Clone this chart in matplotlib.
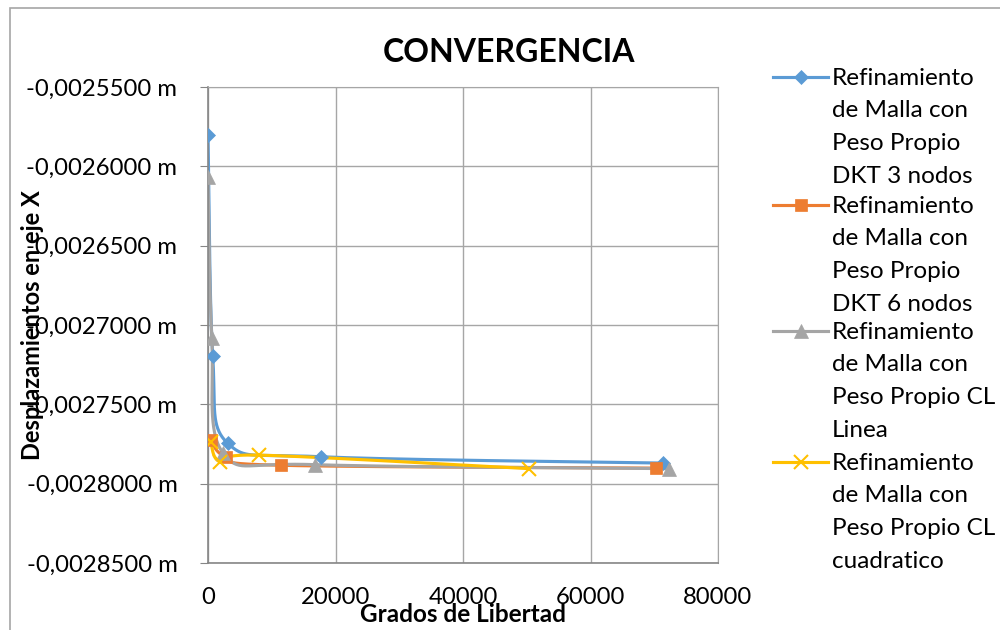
import numpy as np
import matplotlib
matplotlib.use("Agg")
import matplotlib.pyplot as plt
from matplotlib.lines import Line2D
from matplotlib.patches import Rectangle
from matplotlib.ticker import FuncFormatter

plt.rcParams['font.family'] = ['Lato', 'DejaVu Sans']

# -----------------------------------
# Data
# -----------------------------------

gdl_dkt3 = [0, 740, 3090, 17700, 71400]
desp_dkt3 = [-0.0025803, -0.0027196, -0.0027745, -0.0027830, -0.0027870]

gdl_dkt6 = [400, 2900, 11450, 70300]
desp_dkt6 = [-0.0027726, -0.0027833, -0.0027884, -0.0027902]

gdl_cl_lin = [0, 600, 2400, 16800, 72300]
desp_cl_lin = [-0.0026070, -0.0027080, -0.0027808, -0.0027880, -0.0027905]

gdl_cl_cuad = [400, 1900, 8000, 50350]
desp_cl_cuad = [-0.0027736, -0.0027862, -0.0027820, -0.0027905]

labels = [
    "Refinamiento\nde Malla con\nPeso Propio\nDKT 3 nodos",
    "Refinamiento\nde Malla con\nPeso Propio\nDKT 6 nodos",
    "Refinamiento\nde Malla con\nPeso Propio CL\nLinea",
    "Refinamiento\nde Malla con\nPeso Propio CL\ncuadratico",
]

x_ticks = [0, 20000, 40000, 60000, 80000]
y_ticks = [-0.00285, -0.0028, -0.00275, -0.0027, -0.00265, -0.0026, -0.00255]

colors = ["#5B9BD5", "#ED7D31", "#A5A5A5", "#FFC000"]
markers = ["D", "s", "^", "x"]
msizes = [7, 9, 10, 10]


# -----------------------------------
# Smoothed line (Bezier through points, like spreadsheet smoothing)
# -----------------------------------

def smooth(xs, ys, n=60):
    p = np.column_stack([xs, ys]).astype(float)
    pts = [p[0]]
    for i in range(len(p) - 1):
        p0 = p[i - 1] if i > 0 else p[i]
        p1 = p[i]
        p2 = p[i + 1]
        p3 = p[i + 2] if i + 2 < len(p) else p[i + 1]
        c1 = p1 + (p2 - p0) / 6.0
        c2 = p2 - (p3 - p1) / 6.0
        t = np.linspace(0, 1, n)[1:, None]
        seg = ((1 - t) ** 3 * p1 + 3 * (1 - t) ** 2 * t * c1
               + 3 * (1 - t) * t ** 2 * c2 + t ** 3 * p2)
        pts.extend(seg)
    pts = np.array(pts)
    return pts[:, 0], pts[:, 1]


# -----------------------------------
# Figure
# -----------------------------------

fig = plt.figure(figsize=(10, 6.3), dpi=100)
fig.patches.append(Rectangle((0.010, -0.1), 1.2, 1.087, transform=fig.transFigure,
                             fill=False, edgecolor="#A6A6A6", linewidth=1.2))

ax = fig.add_axes([0.208, 0.1063, 0.510, 0.7556])

series = [
    (gdl_dkt3, desp_dkt3),
    (gdl_dkt6, desp_dkt6),
    (gdl_cl_lin, desp_cl_lin),
    (gdl_cl_cuad, desp_cl_cuad),
]

for (xs, ys), c, m, ms in zip(series, colors, markers, msizes):
    sx, sy = smooth(xs, ys)
    ax.plot(sx, sy, color=c, linewidth=2.25, solid_capstyle="round", zorder=2)
    ax.plot(xs, ys, linestyle="none", marker=m, color=c, markersize=ms,
            markeredgewidth=1.5 if m == "x" else 0.5, zorder=3)

ax.set_xlim(0, 80000)
ax.set_ylim(-0.00285, -0.00255)
ax.set_xticks(x_ticks)
ax.set_yticks(y_ticks)
ax.yaxis.set_major_formatter(FuncFormatter(lambda v, pos: f"{v:.7f}".replace(".", ",") + " m"))

ax.grid(True, color="#A6A6A6", linewidth=1.0)
ax.set_axisbelow(True)
for side in ["top", "right"]:
    ax.spines[side].set_color("#A6A6A6")
for side in ["left", "bottom"]:
    ax.spines[side].set_color("#868686")
    ax.spines[side].set_linewidth(1.2)

ax.tick_params(axis="y", length=6, color="#868686", labelsize=17.2, pad=16)
ax.tick_params(axis="x", length=0, labelsize=17.2, pad=17)

ax.set_xlabel("Grados de Libertad", fontsize=17.5, fontweight="bold", labelpad=-3)
ax.yaxis.set_label_coords(-0.322, 0.5)
ax.set_ylabel("Desplazamientos en eje X", fontsize=17, fontweight="bold")

fig.text(0.509, 0.917, "CONVERGENCIA", fontsize=23, fontweight="bold",
         ha="center", va="center")

# -----------------------------------
# Legend (marker on first text line)
# -----------------------------------

legend_rows = [77, 205, 331, 462]
for lab, row, c, m, ms in zip(labels, legend_rows, colors, markers, msizes):
    yf = 1 - row / 630
    fig.add_artist(Line2D([0.773, 0.828], [yf, yf], transform=fig.transFigure,
                          color=c, linewidth=2.25))
    fig.add_artist(Line2D([0.8005], [yf], transform=fig.transFigure, color=c,
                          marker=m, markersize=ms,
                          markeredgewidth=1.5 if m == "x" else 0.5))
    fig.text(0.832, yf + 0.015, lab, fontsize=17.5, ha="left", va="top",
             linespacing=1.69)

fig.savefig("out.png", dpi=100)
